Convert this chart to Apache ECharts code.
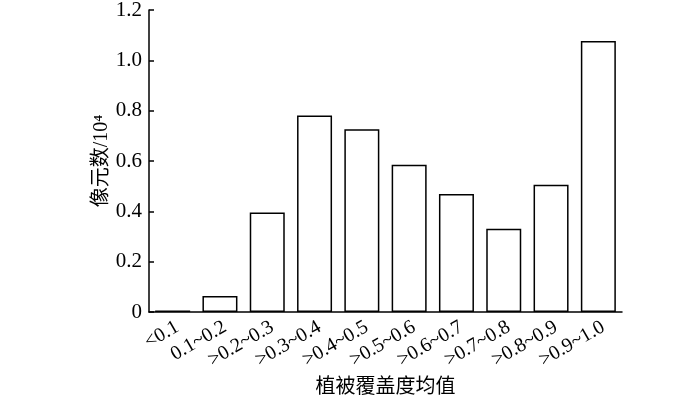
<!DOCTYPE html>
<html>
<head>
<meta charset="utf-8">
<script src="https://cdn.jsdelivr.net/npm/echarts@6/dist/echarts.min.js"></script>
<style>html,body{margin:0;padding:0;background:#fff;}#c{width:700px;height:402px;}</style>
</head>
<body>
<div id="c"></div>
<script>
const categories = ['<0.1', '0.1~0.2', '>0.2~0.3', '>0.3~0.4', '>0.4~0.5', '>0.5~0.6', '>0.6~0.7', '>0.7~0.8', '>0.8~0.9', '>0.9~1.0'];
const values = [0.006, 0.064, 0.395, 0.781, 0.726, 0.585, 0.469, 0.331, 0.506, 1.077];
const yTicks = [0, 0.2, 0.4, 0.6, 0.8, 1.0, 1.2];

const serif = '"Liberation Serif", "Noto Sans CJK SC", serif';
const chart = echarts.init(document.getElementById('c'));
chart.setOption({
  animation: false,
  grid: { left: 149, right: 78, top: 10, bottom: 90, outerBoundsMode: 'none', containLabel: false },
  xAxis: {
    type: 'category',
    data: categories,
    name: '植被覆盖度均值',
    nameLocation: 'middle',
    nameGap: 66,
    nameMoveOverlap: false,
    nameTextStyle: { fontFamily: serif, fontSize: 20, color: '#000' },
    axisLine: { lineStyle: { color: '#000', width: 1.5 } },
    axisTick: { show: false },
    axisLabel: { rotate: 30, interval: 0, fontFamily: serif, fontSize: 20, color: '#000', margin: 5, verticalAlign: 'top' }
  },
  yAxis: {
    type: 'value',
    min: yTicks[0],
    max: yTicks[yTicks.length - 1],
    interval: 0.2,
    name: '像元数/10⁴',
    nameLocation: 'middle',
    nameGap: 37,
    nameMoveOverlap: false,
    nameRotate: 90,
    nameTextStyle: { fontFamily: serif, fontSize: 20, color: '#000' },
    axisLine: { show: true, lineStyle: { color: '#000', width: 1.5 } },
    axisTick: { show: true, inside: true, length: 5, lineStyle: { color: '#000', width: 1.5 } },
    splitLine: { show: false },
    axisLabel: {
      fontFamily: serif, fontSize: 21, color: '#000', margin: 7,
      formatter: v => v === 0 ? '0' : v.toFixed(1)
    }
  },
  series: [{
    type: 'bar',
    data: values,
    barCategoryGap: '26%',
    itemStyle: { color: '#fff', borderColor: '#000', borderWidth: 1.5 }
  }]
});
</script>
</body>
</html>
